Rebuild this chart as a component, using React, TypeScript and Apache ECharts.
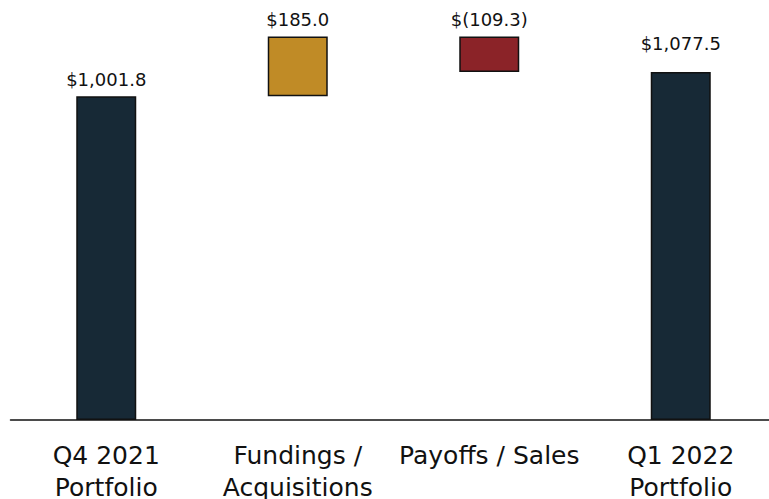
import React, { useEffect, useRef } from "react";
import * as echarts from "echarts";

const categories = ["Q4 2021\nPortfolio", "Fundings /\nAcquisitions", "Payoffs / Sales", "Q1 2022\nPortfolio"];
const baseValues = [0, 1001.8, 1077.5, 0];
const barValues = [1001.8, 185.0, 109.3, 1077.5];
const valueLabels = ["$1,001.8", "$185.0", "$(109.3)", "$1,077.5"];
const barColors = ["#172936", "#C08B26", "#8B2328", "#172936"];
const labelGaps = [8, 8, 8, 19];

const FONT = "DejaVu Sans";

export default function App() {
  const ref = useRef<HTMLDivElement>(null);
  useEffect(() => {
    if (!ref.current) return;
    const chart = echarts.init(ref.current, null, { renderer: "svg" });
    chart.setOption({
      animation: false,
      grid: {
        left: 10.5,
        width: 766,
        top: 0,
        height: 420,
        containLabel: false,
        outerBoundsMode: "none",
      },
      xAxis: {
        type: "category",
        data: categories,
        axisLine: { lineStyle: { color: "#111", width: 1.5 } },
        axisTick: { show: false },
        axisLabel: {
          fontFamily: FONT,
          fontSize: 25,
          color: "#111",
          lineHeight: 32,
          margin: 19,
          interval: 0,
        },
      },
      yAxis: {
        type: "value",
        min: 0,
        max: 1300,
        show: false,
        splitLine: { show: false },
      },
      series: [
        {
          type: "bar",
          stack: "w",
          data: baseValues,
          itemStyle: { color: "transparent" },
          barWidth: 60,
          silent: true,
        },
        {
          type: "bar",
          stack: "w",
          barWidth: 60,
          data: barValues.map((v, i) => ({
            value: v,
            itemStyle: { color: barColors[i], borderColor: "#111", borderWidth: 1.5 },
            label: { distance: labelGaps[i] },
          })),
          label: {
            show: true,
            position: "top",
            fontFamily: FONT,
            fontSize: 18,
            color: "#111",
            formatter: (p: any) => valueLabels[p.dataIndex],
          },
        },
      ],
    });
    return () => chart.dispose();
  }, []);
  return <div ref={ref} style={{ width: 769, height: 499, position: "absolute", left: 0, top: 0 }} />;
}
